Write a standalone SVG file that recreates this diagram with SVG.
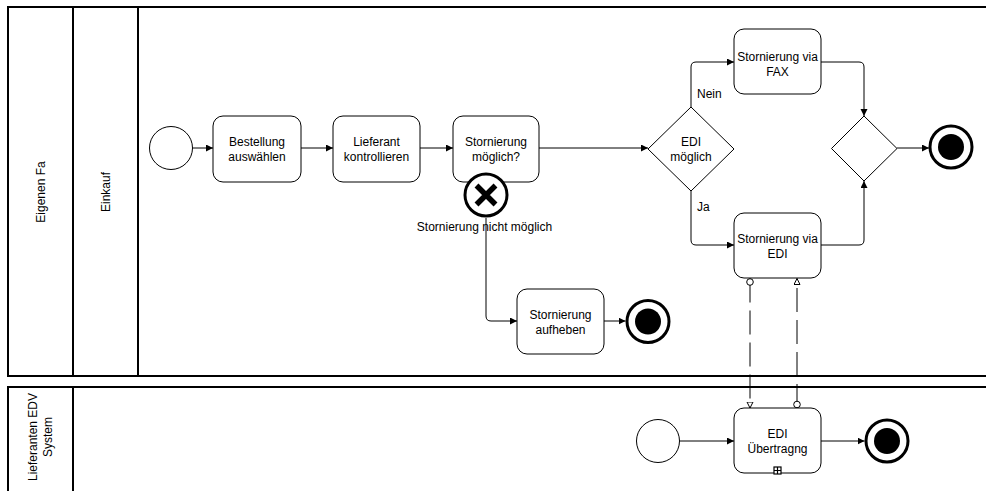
<svg xmlns="http://www.w3.org/2000/svg" width="986" height="491" viewBox="0 0 986 491">
<style>
.pool{fill:#fff;stroke:#000;stroke-width:2}
.task{fill:#fff;stroke:#000;stroke-width:1}
.gw{fill:#fff;stroke:#000;stroke-width:1}
.ev{fill:#fff;stroke:#000;stroke-width:1}
.end{fill:#fff;stroke:#000;stroke-width:3}
.flow{fill:none;stroke:#000;stroke-width:1;marker-end:url(#arrow)}
.msg{fill:none;stroke:#000;stroke-width:1;stroke-dasharray:24 8;marker-start:url(#mstart);marker-end:url(#mend)}
text{font-family:"Liberation Sans",Arial,Helvetica,sans-serif;font-size:12px;fill:#000}
.c{text-anchor:middle}
</style>
<defs>
<marker id="arrow" markerUnits="userSpaceOnUse" markerWidth="8" markerHeight="8" refX="7" refY="3.5" orient="auto"><path d="M0,0 L7,3.5 L0,7 z" fill="#000"/></marker>
<marker id="mend" markerUnits="userSpaceOnUse" markerWidth="8" markerHeight="8" refX="6.5" refY="3.5" orient="auto"><path d="M0.5,0.5 L6.5,3.5 L0.5,6.5 z" fill="#fff" stroke="#000" stroke-width="1"/></marker>
<marker id="mstart" markerUnits="userSpaceOnUse" markerWidth="9" markerHeight="9" refX="0.5" refY="4" orient="auto"><circle cx="4" cy="4" r="3.3" fill="#fff" stroke="#000" stroke-width="1"/></marker>
</defs>

<g id="pool1">
<rect class="pool" x="8" y="7" width="990" height="369"/>
<line x1="73" y1="7" x2="73" y2="376" stroke="#000" stroke-width="2"/>
<line x1="138" y1="7" x2="138" y2="376" stroke="#000" stroke-width="2"/>
<text class="c" transform="translate(44.5,192) rotate(-90)">Eigenen Fa</text>
<text class="c" transform="translate(109.5,192) rotate(-90)">Einkauf</text>
</g>
<g id="pool2">
<rect class="pool" x="8" y="387" width="990" height="120"/>
<line x1="73" y1="387" x2="73" y2="491" stroke="#000" stroke-width="2"/>
<text class="c" transform="translate(37,437) rotate(-90)">Lieferanten EDV</text>
<text class="c" transform="translate(52,437) rotate(-90)">System</text>
</g>

<g id="connectors">
<line class="flow" x1="192.5" y1="148" x2="213" y2="148"/>
<line class="flow" x1="301" y1="148" x2="333" y2="148"/>
<line class="flow" x1="420" y1="148" x2="453" y2="148"/>
<line class="flow" x1="539" y1="148" x2="648" y2="148"/>
<path class="flow" d="M691,107 V67 Q691,62 696,62 H734"/>
<path class="flow" d="M691,191 V240 Q691,245 696,245 H734"/>
<path class="flow" d="M821,62 H859 Q864,62 864,67 V116"/>
<path class="flow" d="M821,245 H859 Q864,245 864,240 V181"/>
<line class="flow" x1="897" y1="148" x2="929" y2="148"/>
<path class="flow" d="M486,218 V316 Q486,321 491,321 H517"/>
<line class="flow" x1="604" y1="321" x2="625.5" y2="321"/>
<line class="flow" x1="679.5" y1="441" x2="734" y2="441"/>
<line class="flow" x1="821" y1="441" x2="864.5" y2="441"/>
<path class="msg" d="M750,278.5 V408"/>
<path class="msg" d="M797,408 V278.5"/>
</g>

<g id="start1"><circle class="ev" cx="171" cy="148" r="21.5"/></g>
<g id="t_bestellung"><rect class="task" x="213" y="116" width="88" height="66" rx="10"/><text class="c" x="257" y="145.5">Bestellung</text><text class="c" x="257" y="160.5">auswählen</text></g>
<g id="t_lieferant"><rect class="task" x="333" y="116" width="87" height="66" rx="10"/><text class="c" x="376.5" y="145.5">Lieferant</text><text class="c" x="376.5" y="160.5">kontrollieren</text></g>
<g id="t_moeglich"><rect class="task" x="453" y="116" width="86" height="66" rx="10"/><text class="c" x="496" y="145.5">Stornierung</text><text class="c" x="496" y="160.5">möglich?</text></g>
<g id="err"><circle cx="486" cy="195" r="21" fill="#fff" stroke="#000" stroke-width="3"/><path d="M476.5,185.5 L495.5,204.5 M495.5,185.5 L476.5,204.5" stroke="#000" stroke-width="5.5"/></g>
<text class="c" x="484.5" y="231">Stornierung nicht möglich</text>
<g id="gw_edi"><polygon class="gw" points="691,107 734,149 691,191 648,149"/><text class="c" x="691" y="145.5">EDI</text><text class="c" x="691" y="160.5">möglich</text></g>
<text x="697" y="98">Nein</text>
<text x="697" y="210.5">Ja</text>
<g id="t_fax"><rect class="task" x="734" y="29" width="87" height="65" rx="10"/><text class="c" x="777.5" y="60.5">Stornierung via</text><text class="c" x="777.5" y="76">FAX</text></g>
<g id="t_edi"><rect class="task" x="734" y="213" width="87" height="65" rx="10"/><text class="c" x="777.5" y="242.5">Stornierung via</text><text class="c" x="777.5" y="257.5">EDI</text></g>
<g id="gw_merge"><polygon class="gw" points="864,116 897,148.5 864,181 831.5,148.5"/></g>
<g id="end1"><circle class="end" cx="951" cy="147" r="21"/><circle cx="951" cy="147" r="13" fill="#000"/></g>
<g id="t_aufheben"><rect class="task" x="517" y="289" width="87" height="65" rx="10"/><text class="c" x="560.5" y="319">Stornierung</text><text class="c" x="560.5" y="334">aufheben</text></g>
<g id="end2"><circle class="end" cx="648" cy="321.5" r="21"/><circle cx="648" cy="321.5" r="13" fill="#000"/></g>
<g id="start2"><circle class="ev" cx="658" cy="441" r="21.5"/></g>
<g id="t_uebertragung"><rect class="task" x="734" y="408" width="87" height="65" rx="10"/><text class="c" x="777.5" y="437.5">EDI</text><text class="c" x="777.5" y="453">Übertragng</text>
<rect x="774" y="467" width="7" height="7" fill="#fff" stroke="#000" stroke-width="1.2"/><path d="M777.5,467 V474 M774,470.5 H781" stroke="#000" stroke-width="1.2"/></g>
<g id="end3"><circle class="end" cx="887" cy="441" r="21"/><circle cx="887" cy="441" r="13" fill="#000"/></g>
</svg>
